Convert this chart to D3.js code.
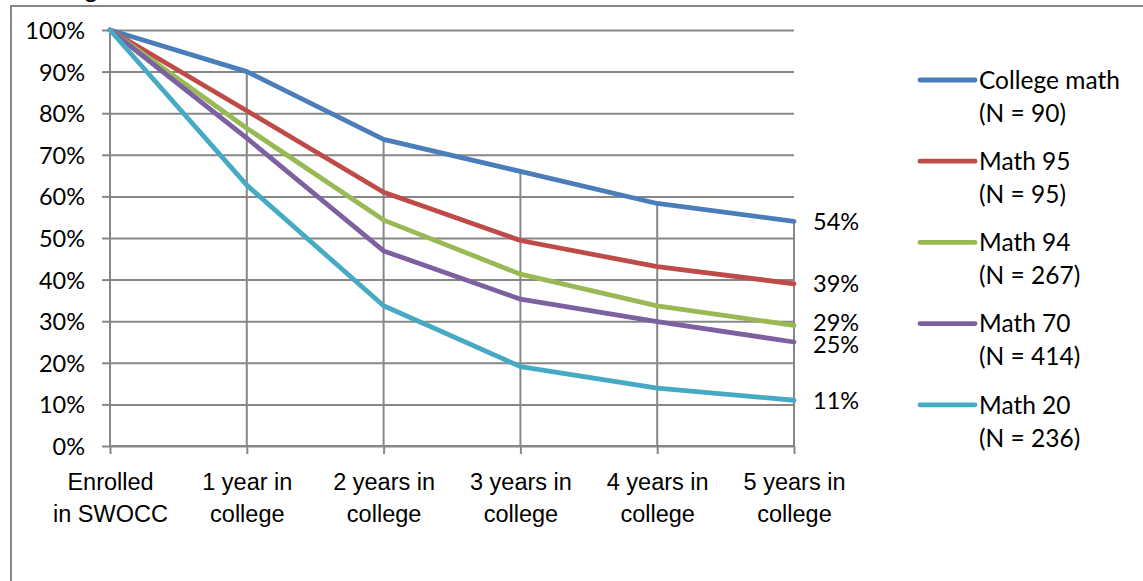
<!DOCTYPE html>
<html>
<head>
<meta charset="utf-8">
<script src="https://cdn.jsdelivr.net/npm/d3@7"></script>
<style>
  html, body { margin: 0; padding: 0; background: #fff; }
  svg { display: block; font-family: Lato, "Open Sans", sans-serif; }
</style>
</head>
<body>
<svg id="chart" width="1143" height="581"></svg>
<script>
// Share of students still enrolled, by starting math level
const categories = [["Enrolled", "in SWOCC"], ["1 year in", "college"], ["2 years in", "college"],
                    ["3 years in", "college"], ["4 years in", "college"], ["5 years in", "college"]];
const seriesNames = [["College math", "(N = 90)"], ["Math 95", "(N = 95)"], ["Math 94", "(N = 267)"],
                     ["Math 70", "(N = 414)"], ["Math 20", "(N = 236)"]];
const collegeMath = [100, 90, 73.7, 66, 58.3, 54];
const math95      = [100, 80.6, 61, 49.4, 43.1, 39];
const math94      = [100, 76.4, 54.3, 41.3, 33.7, 29];
const math70      = [100, 74, 46.9, 35.3, 29.9, 25];
const math20      = [100, 62.7, 33.7, 19.1, 13.9, 11];
const yTicks = [0, 10, 20, 30, 40, 50, 60, 70, 80, 90, 100];
const colors = ["#4A7EBB", "#BE4B48", "#98B954", "#7D60A0", "#46AAC5"];

const series = [collegeMath, math95, math94, math70, math20];

const svg = d3.select("#chart");
const fs = 23.5;       // axis and value labels
const fsLegend = 24.5; // legend entries
const gridColor = "#878787";

// chart frame (top and left edges visible)
svg.append("path")
  .attr("d", "M11,581 V6 H1143")
  .attr("fill", "none").attr("stroke", gridColor).attr("stroke-width", 2);

// title, partly above the frame
svg.append("text").attr("x", 13).attr("y", -2)
  .attr("font-size", fsLegend).attr("fill", "#000").text("Starting level");

const x = d3.scalePoint().domain(d3.range(categories.length)).range([110, 794]);
const y = d3.scaleLinear().domain([0, 100]).range([446, 30]);

// horizontal gridlines with left tick marks
const yAxis = d3.axisLeft(y).tickValues(yTicks).tickSize(8).tickFormat(d => d + "%");
const gy = svg.append("g").attr("transform", "translate(110,0)").call(yAxis);
gy.select(".domain").remove();
gy.selectAll(".tick line").attr("stroke", gridColor).attr("stroke-width", 2);
gy.selectAll(".tick").append("line")
  .attr("x1", 0).attr("x2", 794 - 110)
  .attr("stroke", gridColor).attr("stroke-width", 2);
gy.selectAll(".tick text")
  .attr("x", -25).attr("dy", "0.36em")
  .attr("font-size", fs).attr("font-family", "Lato, sans-serif").attr("fill", "#000");

// vertical axis line
svg.append("line").attr("x1", 110).attr("x2", 110).attr("y1", 30).attr("y2", 446)
  .attr("stroke", gridColor).attr("stroke-width", 2);

// drop lines from the highest series to the category axis
const tops = categories.map((c, i) => d3.max(series, s => s[i]));
svg.append("g").selectAll("line").data(tops.slice(1)).join("line")
  .attr("x1", (d, i) => x(i + 1)).attr("x2", (d, i) => x(i + 1))
  .attr("y1", d => y(d)).attr("y2", 446)
  .attr("stroke", gridColor).attr("stroke-width", 2);

// category axis
const xAxis = d3.axisBottom(x).tickSize(8).tickFormat(() => "");
const gx = svg.append("g").attr("transform", "translate(0,446)").call(xAxis);
gx.select(".domain").attr("stroke", gridColor).attr("stroke-width", 2)
  .attr("d", `M${x(0)},0H${x(categories.length - 1)}`);
gx.selectAll(".tick line").attr("stroke", gridColor).attr("stroke-width", 2);
gx.selectAll(".tick").each(function (d) {
  const t = d3.select(this).append("text")
    .attr("text-anchor", "middle").attr("font-size", fs).attr("fill", "#000");
  categories[d].forEach((line, k) => {
    t.append("tspan").attr("x", 0).attr("y", 44 + k * 32).text(line);
  });
});

// series lines
const line = d3.line().x((d, i) => x(i)).y(d => y(d));
svg.append("g").selectAll("path").data(series).join("path")
  .attr("d", line)
  .attr("fill", "none")
  .attr("stroke", (d, i) => colors[i])
  .attr("stroke-width", 4.8)
  .attr("stroke-linejoin", "round")
  .attr("stroke-linecap", "round");

// end-point value labels, spread apart when they would collide
const last = categories.length - 1;
const labels = series.map((s, i) => ({ v: s[last], yy: y(s[last]) }))
  .sort((a, b) => a.yy - b.yy);
const minGap = 22;
for (let iter = 0; iter < 20; iter++) {
  for (let i = 1; i < labels.length; i++) {
    const gap = labels[i].yy - labels[i - 1].yy;
    if (gap < minGap) {
      const push = (minGap - gap) / 2;
      labels[i].yy += push;
      labels[i - 1].yy -= push;
    }
  }
}
svg.append("g").selectAll("text").data(labels).join("text")
  .attr("x", x(last) + 19).attr("y", d => d.yy).attr("dy", "0.36em")
  .attr("font-size", fs).attr("fill", "#000")
  .text(d => Math.round(d.v) + "%");

// legend
const lg = svg.append("g").selectAll("g").data(seriesNames).join("g")
  .attr("transform", (d, i) => `translate(920,${80 + i * 81.2})`);
lg.append("line").attr("x1", 0).attr("x2", 55)
  .attr("stroke", (d, i) => colors[i]).attr("stroke-width", 4.8).attr("stroke-linecap", "round");
lg.append("text").attr("font-size", fsLegend).attr("fill", "#000")
  .each(function (d) {
    const t = d3.select(this);
    d.forEach((s, k) => t.append("tspan").attr("x", 59).attr("y", k * 33).attr("dy", "0.36em").text(s));
  });
</script>
</body>
</html>
